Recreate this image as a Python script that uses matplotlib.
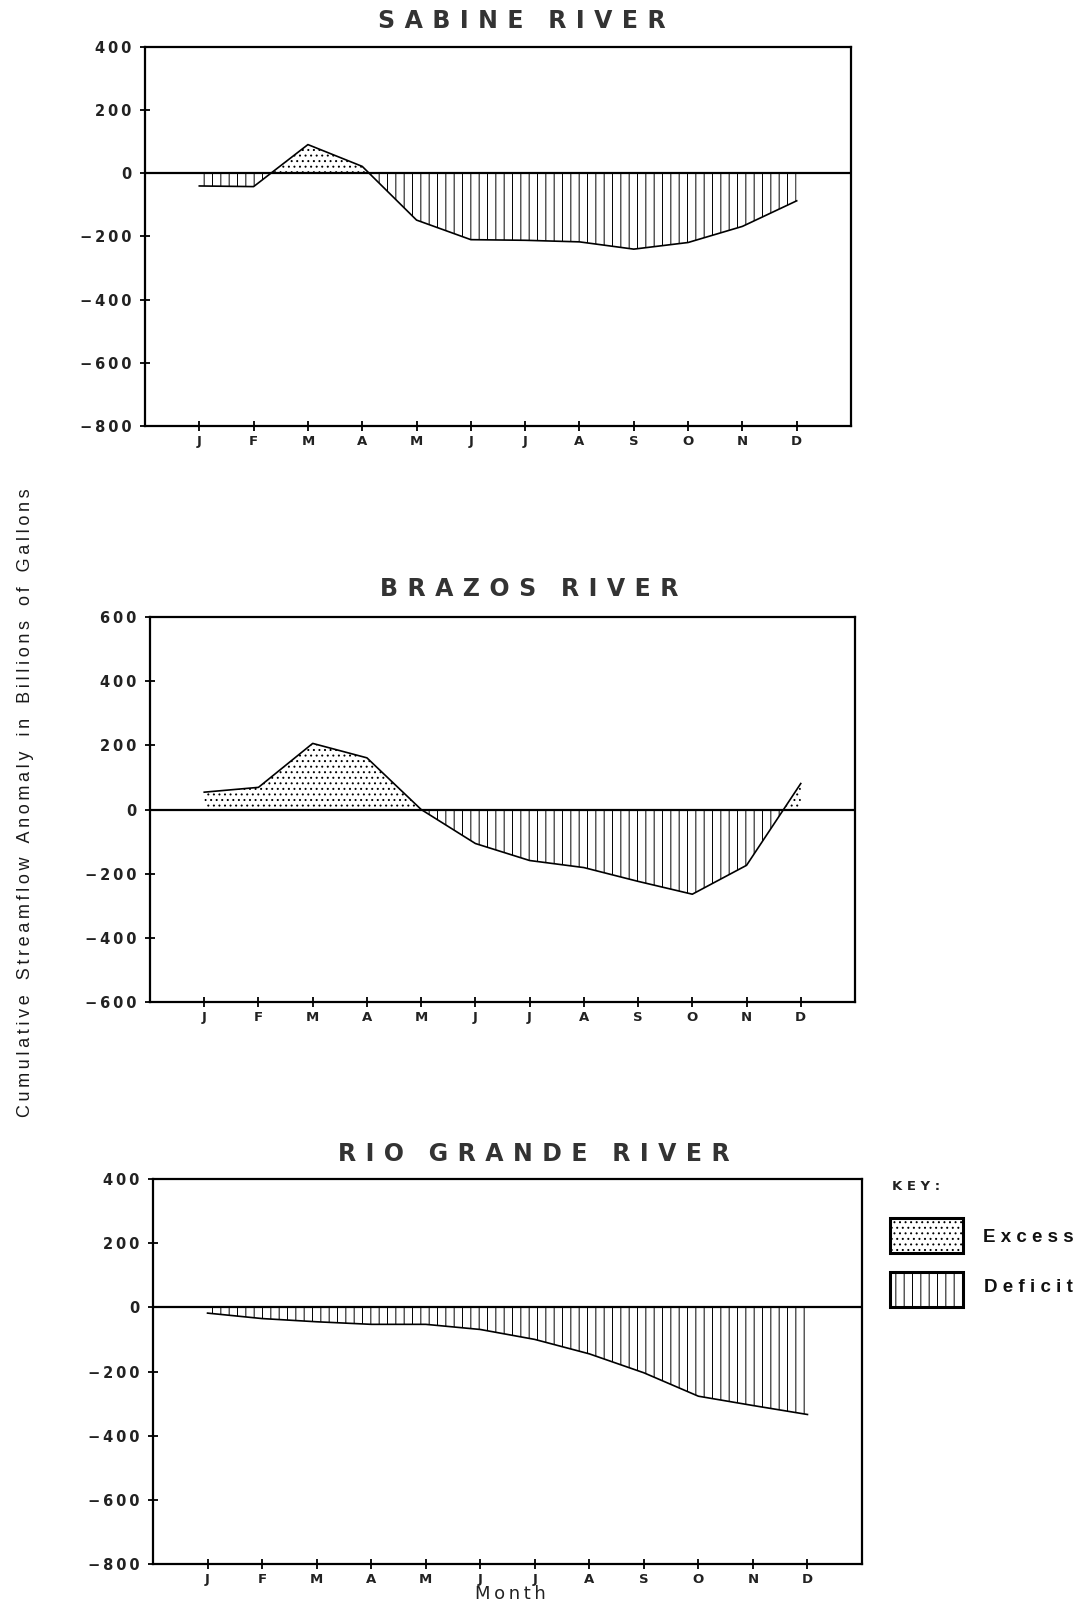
import numpy as np
import matplotlib
matplotlib.use('Agg')
import matplotlib.pyplot as plt
from matplotlib.patches import Rectangle

plt.rcParams['hatch.linewidth'] = 0.7

months = ['J', 'F', 'M', 'A', 'M', 'J', 'J', 'A', 'S', 'O', 'N', 'D']
month_pos = np.arange(1, 13)

sabine = [-40, -42, 91, 22, -148, -210, -212, -217, -240, -219, -168, -87]
brazos = [54, 69, 206, 161, 0, -106, -159, -181, -224, -264, -174, 81]
rio_grande = [-18, -35, -45, -53, -53, -69, -100, -145, -204, -277, -306, -334]

sabine_ticks = [400, 200, 0, -200, -400, -600, -800]
brazos_ticks = [600, 400, 200, 0, -200, -400, -600]
rio_ticks = [400, 200, 0, -200, -400, -600, -800]

W, H = 1083, 1603
fig = plt.figure(figsize=(W/100, H/100), dpi=100)

def px_axes(left, right, top, bottom):
    return fig.add_axes([left/W, 1 - bottom/H, (right-left)/W, (bottom-top)/H])

def spaced(text, gap=' ', wordgap='    '):
    return wordgap.join(gap.join(w) for w in text.split(' '))

def tick_txt(v):
    return '\u2009'.join(str(v).replace('-', '\u2212'))

def river_panel(ax, vals, yticks, title, tx, ty):
    x = np.array(month_pos, dtype=float)
    y = np.array(vals, dtype=float)
    ax.fill_between(x, y, 0, where=y >= 0, interpolate=True, facecolor='none',
                    edgecolor='black', hatch='...', linewidth=0)
    ax.fill_between(x, y, 0, where=y <= 0, interpolate=True, facecolor='none',
                    edgecolor='black', hatch='||', linewidth=0)
    ax.plot(x, y, color='black', lw=1.2)
    ax.axhline(0, color='black', lw=1.6)
    ax.set_xlim(0, 13)
    ax.set_ylim(min(yticks), max(yticks))
    ax.set_yticks(yticks)
    ax.set_yticklabels([tick_txt(v) for v in yticks], fontsize=10.5, fontweight='bold',
                       color='#222222')
    ax.set_xticks(month_pos)
    ax.set_xticklabels(months, fontsize=9.5, fontweight='bold', color='#222222')
    ax.tick_params(direction='inout', length=7, width=1.3)
    ax.tick_params(axis='x', pad=3)
    ax.tick_params(axis='y', pad=6)
    for s in ax.spines.values():
        s.set_linewidth(1.6)
    fig.text(tx/W, 1 - ty/H, spaced(title, '\u2009\u2009', '   '), ha='center',
             va='center', fontsize=17, fontweight='bold', color='#333333')

ax1 = px_axes(145, 851, 47, 426)
river_panel(ax1, sabine, sabine_ticks, 'SABINE RIVER', 522, 21)

ax2 = px_axes(150, 855, 617, 1002)
river_panel(ax2, brazos, brazos_ticks, 'BRAZOS RIVER', 529, 589)

ax3 = px_axes(153, 862, 1179, 1564)
river_panel(ax3, rio_grande, rio_ticks, 'RIO GRANDE RIVER', 534, 1154)

fig.text(510/W, 1 - 1594/H, spaced('Month', '\u2009'), ha='center', va='center',
         fontsize=13, color='#222222')

ylab = 'Cumulative Streamflow Anomaly in Billions of Gallons'
fig.text(26/W, 1 - 803/H, spaced(ylab, '\u2009', '   '),
         rotation=90, ha='center', va='center', fontsize=13,
         family='Liberation Sans', color='#1a1a1a')

# key
fig.text(892/W, 1 - 1187/H, spaced('KEY:', ' '), ha='left', va='center', fontsize=9.5,
         fontweight='bold', color='#222222')
fig.add_artist(Rectangle((890/W, 1 - 1253/H), 73/W, 35/H, transform=fig.transFigure,
                         facecolor='white', edgecolor='black', hatch='...', lw=2.2))
fig.add_artist(Rectangle((890/W, 1 - 1307/H), 73/W, 35/H, transform=fig.transFigure,
                         facecolor='white', edgecolor='black', hatch='||', lw=2.2))
fig.text(983/W, 1 - 1237/H, 'E x c e s s', ha='left', va='center', fontsize=13.5,
         fontweight='bold', family='Liberation Sans', color='#111111')
fig.text(984/W, 1 - 1287/H, 'D e f i c i t', ha='left', va='center', fontsize=13.5,
         fontweight='bold', family='Liberation Sans', color='#111111')

fig.savefig('out.png', dpi=100)
